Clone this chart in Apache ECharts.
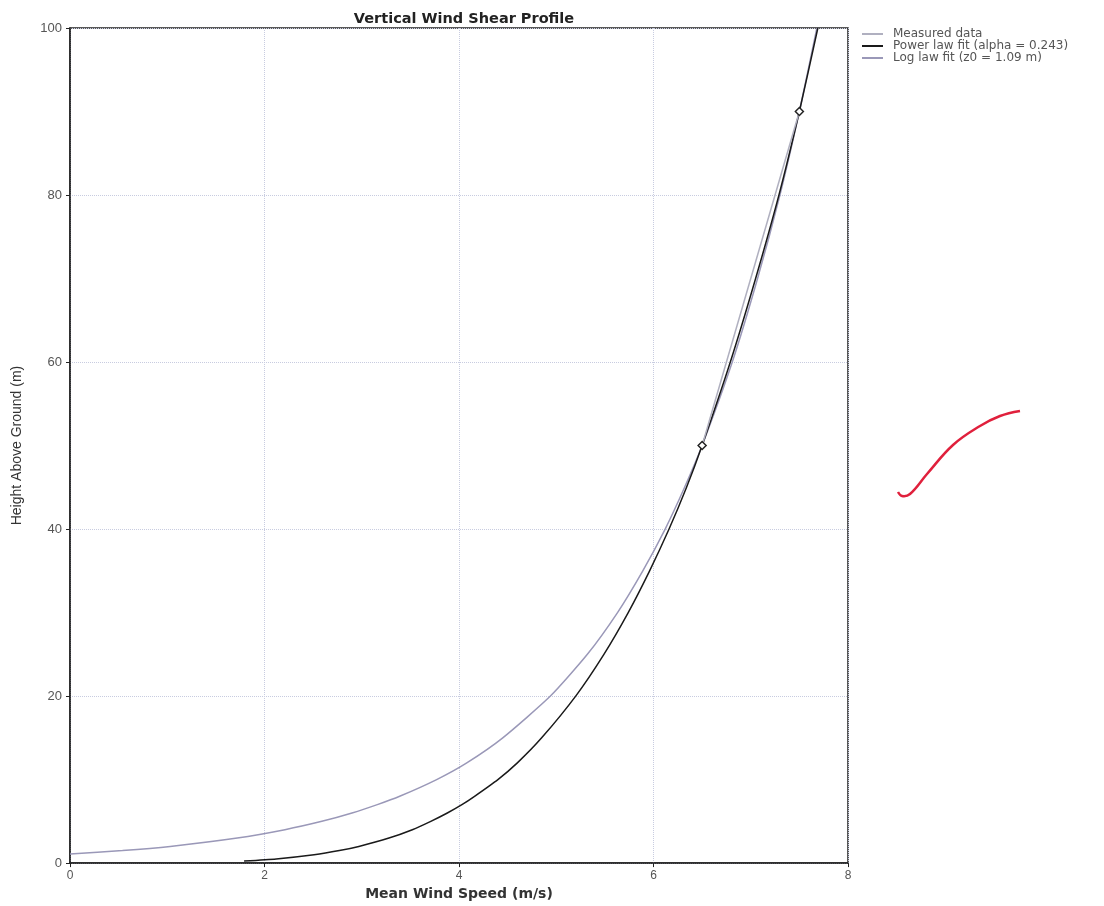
<!DOCTYPE html>
<html><head><meta charset="utf-8">
<script src="https://cdn.jsdelivr.net/npm/echarts@6/dist/echarts.min.js"></script>
<style>html,body{margin:0;padding:0;background:#fff}#c{width:1104px;height:906px}</style>
</head><body><div id="c"></div>
<script>
// Data: [mean wind speed (m/s), height (m)]
const measuredSpeed = [6.5, 7.5];
const measuredHeight = [50, 90];
const powerSpeed = [1.79, 2.12, 2.51, 2.77, 2.97, 3.28, 3.52, 3.71, 3.88, 4.03, 4.16, 4.40, 4.60, 4.85, 5.20, 5.49, 5.74, 5.96, 6.16, 6.34, 6.50, 6.79, 7.05, 7.29, 7.50, 7.69];
const powerHeight = [0.25, 0.5, 1, 1.5, 2, 3, 4, 5, 6, 7, 8, 10, 12, 15, 20, 25, 30, 35, 40, 45, 50, 60, 70, 80, 90, 100];
const logSpeed = [0, 0.54, 1.03, 1.72, 2.21, 2.59, 2.90, 3.16, 3.39, 3.77, 4.08, 4.45, 4.94, 5.32, 5.63, 5.89, 6.12, 6.32, 6.50, 6.81, 7.07, 7.30, 7.50, 7.68];
const logHeight = [1.09, 1.5, 2, 3, 4, 5, 6, 7, 8, 10, 12, 15, 20, 25, 30, 35, 40, 45, 50, 60, 70, 80, 90, 100];
const xTicks = [0, 2, 4, 6, 8];
const yTicks = [0, 20, 40, 60, 80, 100];
const seriesNames = ['Measured data', 'Power law fit (alpha = 0.243)', 'Log law fit (z0 = 1.09 m)'];

const zip = (a, b) => a.map((v, i) => [v, b[i]]);
const chart = echarts.init(document.getElementById('c'), null, {renderer: 'canvas'});
const font = 'Liberation Sans, Arial, sans-serif';
const wide = 'DejaVu Sans, sans-serif';
const cMeasured = '#b0b0c0', cPower = '#1a1a1a', cLog = '#9a98b8';
chart.setOption({
  animation: false,
  backgroundColor: '#ffffff',
  title: {
    text: 'Vertical Wind Shear Profile', left: 459, top: 7, textAlign: 'center',
    textStyle: {fontFamily: wide, fontSize: 14.5, fontWeight: 'bold', color: '#222'}
  },
  legend: {
    orient: 'vertical', left: 862, top: 28, itemGap: 0, itemWidth: 21, itemHeight: 2,
    icon: 'rect', padding: 0,
    textStyle: {fontFamily: wide, fontSize: 12, lineHeight: 12, color: '#555', padding: [0, 0, 0, 5]},
    data: [
      {name: seriesNames[0], itemStyle: {color: cMeasured, borderColor: cMeasured, borderWidth: 0}},
      {name: seriesNames[1], itemStyle: {color: cPower, borderWidth: 0}},
      {name: seriesNames[2], itemStyle: {color: cLog, borderWidth: 0}}
    ]
  },
  grid: {left: 70, right: 256, top: 28, bottom: 36, show: true, borderColor: '#222', borderWidth: 1.5},
  xAxis: {
    type: 'value', min: 0, max: 8, interval: 2,
    name: 'Mean Wind Speed (m/s)', nameLocation: 'middle', nameGap: 21,
    nameTextStyle: {fontFamily: wide, fontSize: 14, fontWeight: 'bold', color: '#333'},
    axisLine: {show: true, lineStyle: {color: '#222', width: 1.5}},
    axisTick: {show: true, length: 4, lineStyle: {color: '#222'}},
    axisLabel: {fontFamily: font, fontSize: 12, color: '#555', margin: 7},
    splitLine: {show: true, lineStyle: {color: '#c8cce0', type: 'dotted', width: 1}}
  },
  yAxis: {
    type: 'value', min: 0, max: 100, interval: 20,
    name: 'Height Above Ground (m)', nameLocation: 'middle', nameGap: 46, nameRotate: 90,
    nameTextStyle: {fontFamily: font, fontSize: 14, color: '#333'},
    axisLine: {show: true, lineStyle: {color: '#222', width: 1.5}},
    axisTick: {show: true, length: 4, lineStyle: {color: '#222'}},
    axisLabel: {fontFamily: font, fontSize: 13, color: '#555', margin: 8},
    splitLine: {show: true, lineStyle: {color: '#c8cce0', type: 'dotted', width: 1}}
  },
  series: [
    {
      name: seriesNames[1], type: 'line', smooth: 0.2, showSymbol: false, z: 3,
      data: zip(powerSpeed, powerHeight),
      lineStyle: {color: cPower, width: 1.5}, itemStyle: {color: cPower}
    },
    {
      name: seriesNames[2], type: 'line', smooth: 0.2, showSymbol: false, z: 2,
      data: zip(logSpeed, logHeight),
      lineStyle: {color: cLog, width: 1.5}, itemStyle: {color: cLog}
    },
    {
      name: seriesNames[0], type: 'line', z: 4,
      data: zip(measuredSpeed, measuredHeight),
      symbol: 'diamond', symbolSize: 8, showSymbol: true,
      lineStyle: {color: cMeasured, width: 1.5},
      itemStyle: {color: '#ffffff', borderColor: '#222', borderWidth: 1.5}
    }
  ],
  graphic: [
    {
      type: 'polyline', silent: true,
      shape: {points: [[898, 492], [902, 496], [910, 494], [927, 474], [953, 445], [980, 426], [1000, 416], [1020, 411]], smooth: 0.4},
      style: {stroke: '#e0203c', lineWidth: 2.5, fill: null}
    }
  ]
});
</script></body></html>
